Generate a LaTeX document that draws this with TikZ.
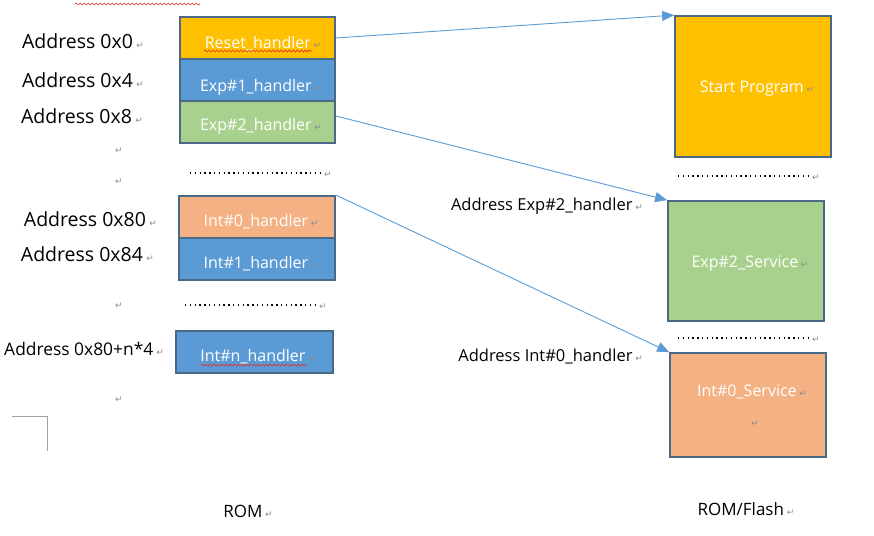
\documentclass[tikz,border=0pt]{standalone}
\usepackage{fontspec}
\setmainfont{Open Sans}
\newfontfamily\djv{DejaVu Sans}
\usetikzlibrary{arrows.meta,decorations.pathmorphing}
\definecolor{cyel}{HTML}{FFC000}
\definecolor{cblue}{HTML}{5B9BD5}
\definecolor{cgreen}{HTML}{A9D18E}
\definecolor{corange}{HTML}{F4B183}
\definecolor{cedge}{HTML}{4A6986}
\definecolor{carrow}{HTML}{5B9BD5}
\definecolor{retg}{HTML}{8C8C8C}
\definecolor{spellred}{HTML}{E03030}
\newcommand\rt{\,{\djv\fontsize{9}{9}\selectfont\textcolor{retg}{↵}}}
\tikzset{
  memblock/.style={draw=cedge, line width=1.8pt, fill=#1, inner sep=0pt},
  btxt/.style={text=white, font=\fontsize{16}{18}\selectfont, anchor=mid, inner sep=0pt, yshift=-3pt},
  lbl/.style={font=\fontsize{19.5}{22}\selectfont, anchor=mid east, inner sep=0pt, yshift=-3.5pt},
  lblr/.style={font=\fontsize{16.5}{20}\selectfont, anchor=mid east, inner sep=0pt, yshift=-3pt},
  lblc/.style={font=\fontsize{17}{20}\selectfont, anchor=mid, inner sep=0pt, yshift=-3pt},
  retmark/.style={anchor=mid, inner sep=0pt},
  dotsline/.style={line width=1.3pt, dash pattern=on 1.3pt off 3.5pt, line cap=butt},
  arr/.style={draw=carrow, line width=0.9pt, -{Triangle[length=12pt,width=10pt]}},
  spell/.style={draw=spellred, line width=0.7pt, decorate, decoration={snake, segment length=4pt, amplitude=1pt}}
}
\begin{document}
\begin{tikzpicture}[x=1pt,y=-1pt]
\useasboundingbox (0,0) rectangle (874,535);

% ROM blocks
\node[memblock=cyel, minimum width=155pt, minimum height=42pt] (reset) at (257.5,38) {};
\node[memblock=cblue, minimum width=155pt, minimum height=42pt] (exp1) at (257.5,80) {};
\node[memblock=cgreen, minimum width=155pt, minimum height=42pt] (exp2) at (257.5,122) {};
\node[memblock=corange, minimum width=156pt, minimum height=42pt] (int0) at (257,217) {};
\node[memblock=cblue, minimum width=156pt, minimum height=42pt] (int1) at (257,259) {};
\node[memblock=cblue, minimum width=157pt, minimum height=42pt] (intn) at (254.5,352) {};

\node[btxt] (resetT) at (263,43) {Reset\_handler\rt};
\node[btxt] (exp1T) at (261,86) {Exp\#1\_handler\rt};
\node[btxt] (exp2T) at (261,125) {Exp\#2\_handler\rt};
\node[btxt] (int0T) at (261,221) {Int\#0\_handler\rt};
\node[btxt] (int1T) at (261,263) {Int\#1\_handler\rt};
\node[btxt] (intnT) at (258,356) {Int\#n\_handler\rt};

% spelling marks
\draw[spell] (75,4) -- (200,4);
\draw[spell] (204,51) -- (312,51);
\draw[spell] (201,365) -- (307,365);

% dotted separators (left)
\coordinate (d1a) at (190,173); \coordinate (d1b) at (321,173);
\draw[dotsline] (d1a) -- (d1b);
\node[retmark] (d1r) at (327,175) {\rt};
\coordinate (d2a) at (185,305); \coordinate (d2b) at (316,305);
\draw[dotsline] (d2a) -- (d2b);
\node[retmark] (d2r) at (322,307) {\rt};

% address labels
\node[lbl] (a0) at (144,42) {Address 0x0\rt};
\node[lbl] (a4) at (144,81) {Address 0x4\rt};
\node[lbl] (a8) at (143,117) {Address 0x8\rt};
\node[lbl] (a80) at (157,220) {Address 0x80\rt};
\node[lbl] (a84) at (154,255) {Address 0x84\rt};
\node[lbl, font=\fontsize{17.4}{22}\selectfont] (an) at (164,349) {Address 0x80+n*4\rt};

\node[retmark] (r1) at (118,151) {\rt};
\node[retmark] (r2) at (118,182) {\rt};
\node[retmark] (r3) at (118,306) {\rt};
\node[retmark] (r4) at (118,400) {\rt};

% corner mark
\coordinate (c1) at (12,416); \coordinate (c2) at (47,416); \coordinate (c3) at (47,451);
\draw[draw=retg!80, line width=0.8pt] (c1) -- (c2) -- (c3);

\node[lblc] (rom) at (248,512) {ROM\rt};

% ROM/Flash blocks
\node[memblock=cyel, minimum width=156pt, minimum height=141pt] (start) at (753,86.5) {};
\node[btxt] (startT) at (757,87) {Start Program\rt};
\node[memblock=cgreen, minimum width=156pt, minimum height=120pt] (exp2s) at (746,261) {};
\node[btxt] (exp2sT) at (750,262) {Exp\#2\_Service\rt};
\node[memblock=corange, minimum width=156pt, minimum height=104pt] (int0s) at (748,405) {};
\node[btxt] (int0sT) at (752,391) {Int\#0\_Service\rt};
\node[retmark] (int0sR) at (754,424) {\rt};

\coordinate (d3a) at (678,176); \coordinate (d3b) at (808,176);
\draw[dotsline] (d3a) -- (d3b);
\node[retmark] (d3r) at (815,178) {\rt};
\coordinate (d4a) at (678,338); \coordinate (d4b) at (808,338);
\draw[dotsline] (d4a) -- (d4b);
\node[retmark] (d4r) at (815,340) {\rt};

\node[lblr] (aexp) at (643,205) {Address Exp\#2\_handler\rt};
\node[lblr] (aint) at (643,356) {Address Int\#0\_handler\rt};
\node[lblc] (flash) at (746,510) {ROM/Flash\rt};

% arrows
\draw[arr] (reset.east) -- (start.north west);
\draw[arr] ([yshift=6pt]exp2.east) -- (exp2s.north west);
\draw[arr] (int0.north east) -- (int0s.north west);
\end{tikzpicture}
\end{document}
